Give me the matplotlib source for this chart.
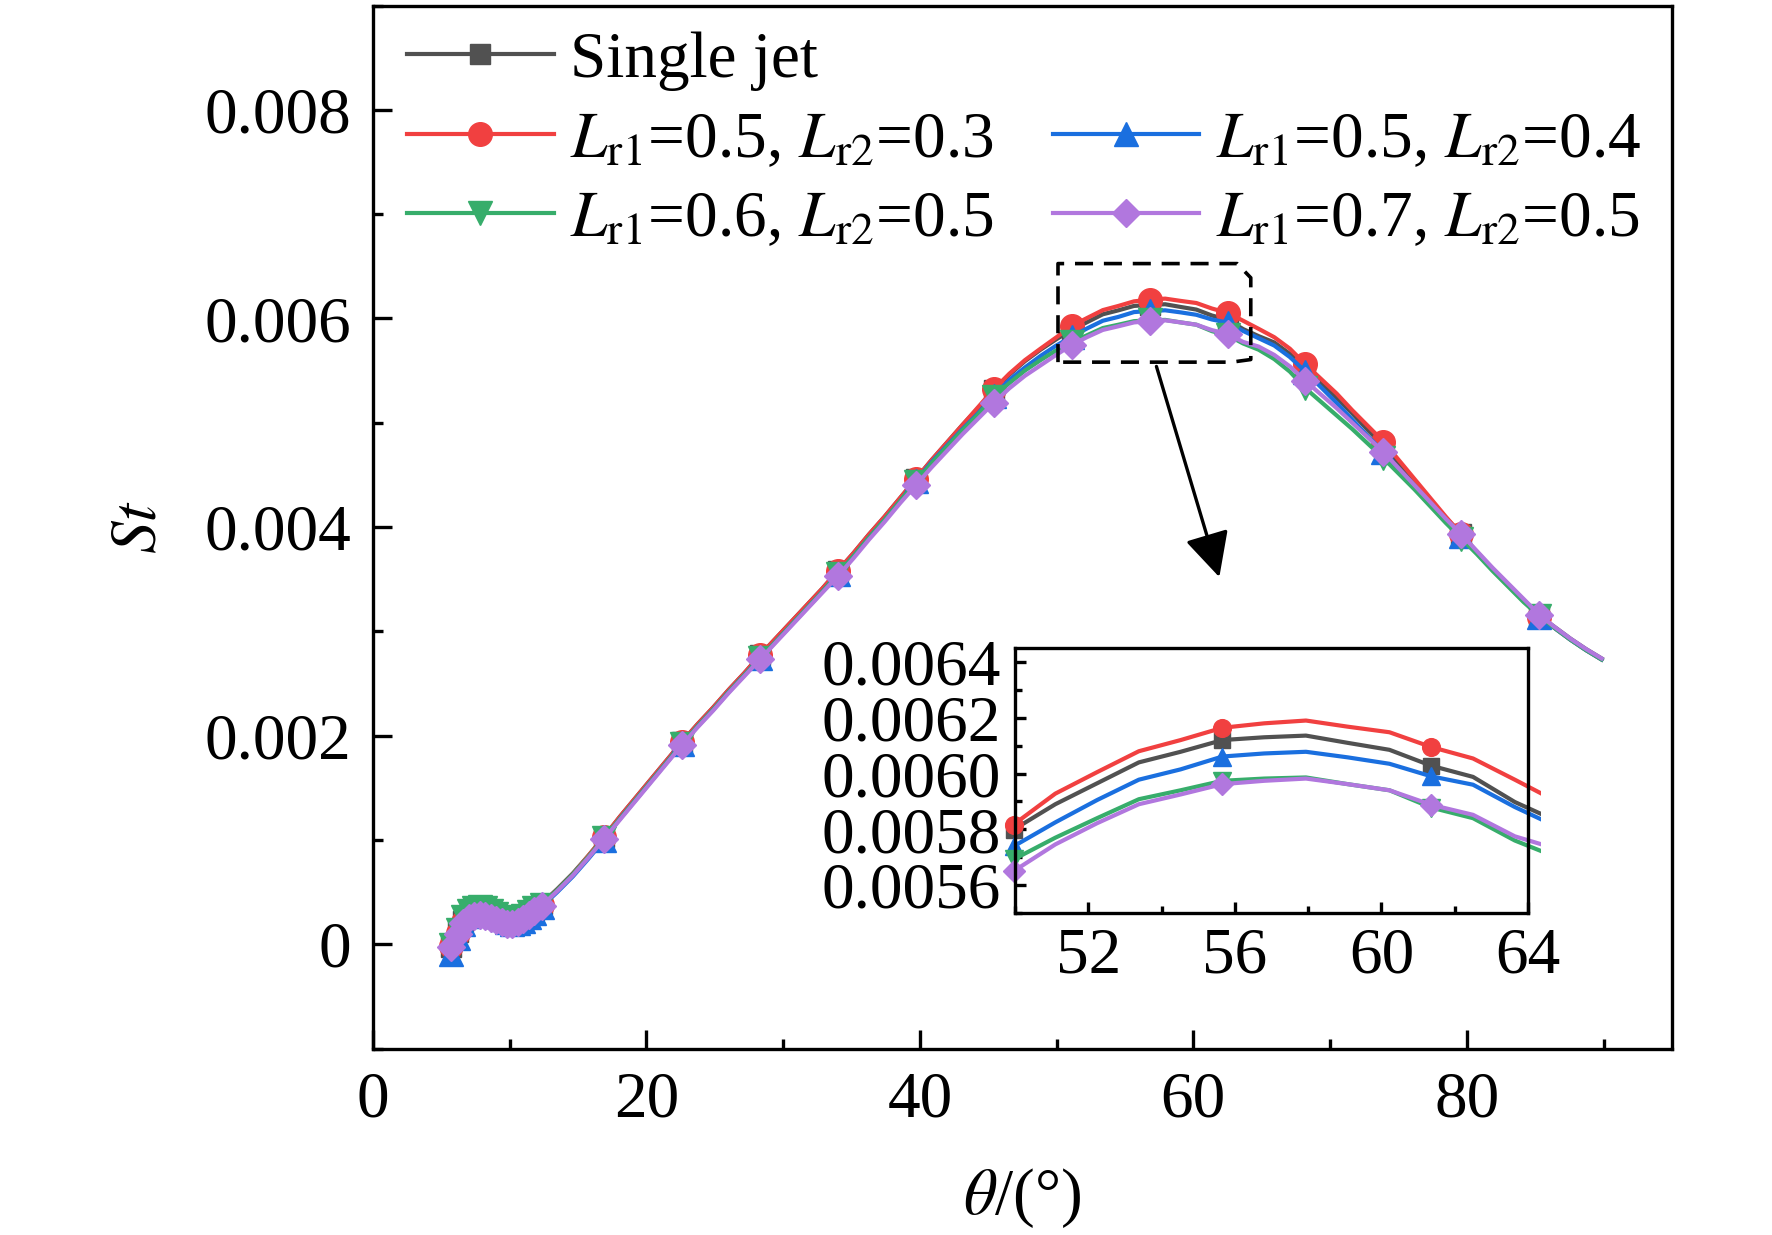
import matplotlib
matplotlib.use("Agg")
import matplotlib.pyplot as plt
from matplotlib.lines import Line2D
from matplotlib.patches import Rectangle
from matplotlib.ticker import MultipleLocator, FuncFormatter

# ==============================
# Global styling
# ==============================
plt.rcParams.update({
    "font.family": "serif",
    "font.serif": ["Liberation Serif", "DejaVu Serif"],
    "mathtext.fontset": "stix",
    "font.size": 47,
    "axes.linewidth": 2.4,
})

# ==============================
# Data
# ==============================
theta = [5.7, 6.2, 6.6, 7.0, 7.4, 7.8, 8.2, 8.6, 9.0, 9.4, 9.8, 10.2, 10.6, 11.0, 11.4, 11.8,
         12.34, 13.48, 14.62, 15.76, 16.90, 18.04, 19.18, 20.32, 21.46, 22.60, 23.74, 24.88,
         26.02, 27.16, 28.30, 29.44, 30.58, 31.72, 32.86, 34.00, 35.14, 36.28, 37.42, 38.56,
         39.70, 40.84, 41.98, 43.12, 44.26, 45.40, 46.54, 47.68, 48.82, 49.96, 51.10, 52.24,
         53.38, 54.52, 55.66, 56.80, 57.94, 59.08, 60.22, 61.36, 62.50, 63.64, 64.78, 65.92,
         67.06, 68.20, 69.34, 70.48, 71.62, 72.76, 73.90, 75.04, 76.18, 77.32, 78.46, 79.60,
         80.74, 81.88, 83.02, 84.16, 85.30, 86.44, 87.58, 88.72, 89.86]

st_single = [-0.00003, 0.00012, 0.00022, 0.00028, 0.00030, 0.00031, 0.00030, 0.00028, 0.00025,
             0.00023, 0.00021, 0.00020, 0.00022, 0.00025, 0.00029, 0.00033,
             0.00039, 0.00053, 0.00068, 0.00085, 0.00103, 0.00122, 0.00140, 0.00158, 0.00176,
             0.00194, 0.00211, 0.00227, 0.00244, 0.00260, 0.00277, 0.00293, 0.00309, 0.00325,
             0.00341, 0.00358, 0.00375, 0.00393, 0.00410, 0.00428, 0.00446, 0.00464, 0.00481,
             0.00498, 0.00514, 0.00531, 0.00546, 0.00559, 0.00570, 0.005799, 0.005890, 0.005965,
             0.006040, 0.006078, 0.006120, 0.006130, 0.006136, 0.006110, 0.006085, 0.006028,
             0.005988, 0.005898, 0.005830, 0.00577, 0.00566, 0.00552, 0.00538, 0.00524, 0.00509,
             0.00493, 0.00478, 0.00460, 0.00443, 0.00426, 0.00409, 0.00393, 0.00376, 0.00360,
             0.00345, 0.00330, 0.00315, 0.00304, 0.00293, 0.00283, 0.00274]

st_05_03 = [-0.00002, 0.00011, 0.00021, 0.00027, 0.00029, 0.00030, 0.00029, 0.00027, 0.00025,
            0.00022, 0.00020, 0.00020, 0.00021, 0.00024, 0.00028, 0.00032,
            0.00038, 0.00052, 0.00067, 0.00085, 0.00103, 0.00122, 0.00140, 0.00158, 0.00176,
            0.00194, 0.00211, 0.00227, 0.00244, 0.00260, 0.00277, 0.00293, 0.00309, 0.00325,
            0.00341, 0.00358, 0.00375, 0.00393, 0.00410, 0.00428, 0.00446, 0.00464, 0.00481,
            0.00498, 0.00515, 0.00532, 0.00547, 0.00560, 0.00571, 0.005817, 0.005928, 0.006005,
            0.006080, 0.006120, 0.006164, 0.006180, 0.006190, 0.006168, 0.006148, 0.006095,
            0.006054, 0.005978, 0.005900, 0.00582, 0.00571, 0.00556, 0.00542, 0.00528, 0.00512,
            0.00497, 0.00482, 0.00464, 0.00446, 0.00428, 0.00410, 0.00393, 0.00376, 0.00359,
            0.00344, 0.00329, 0.00314, 0.00303, 0.00292, 0.00282, 0.00273]

st_05_04 = [-0.00009, 0.00006, 0.00019, 0.00027, 0.00031, 0.00033, 0.00033, 0.00030, 0.00027,
            0.00024, 0.00021, 0.00019, 0.00020, 0.00022, 0.00026, 0.00030,
            0.00036, 0.00050, 0.00065, 0.00082, 0.00100, 0.00120, 0.00138, 0.00156, 0.00174,
            0.00192, 0.00209, 0.00225, 0.00242, 0.00258, 0.00274, 0.00290, 0.00306, 0.00322,
            0.00338, 0.00355, 0.00372, 0.00390, 0.00407, 0.00425, 0.00444, 0.00462, 0.00478,
            0.00494, 0.00509, 0.00526, 0.00541, 0.00553, 0.00564, 0.005739, 0.005825, 0.005905,
            0.005978, 0.006015, 0.006061, 0.006072, 0.006078, 0.006058, 0.006035, 0.005990,
            0.005960, 0.005880, 0.005810, 0.00574, 0.00563, 0.00549, 0.00534, 0.00519, 0.00503,
            0.00487, 0.00472, 0.00455, 0.00438, 0.00422, 0.00406, 0.00391, 0.00375, 0.00359,
            0.00344, 0.00329, 0.00314, 0.00303, 0.00292, 0.00282, 0.00273]

st_06_05 = [-0.00001, 0.00014, 0.00026, 0.00032, 0.00035, 0.00036, 0.00035, 0.00032, 0.00029,
            0.00026, 0.00023, 0.00022, 0.00024, 0.00027, 0.00031, 0.00035,
            0.00038, 0.00052, 0.00067, 0.00084, 0.00102, 0.00120, 0.00138, 0.00156, 0.00174,
            0.00192, 0.00209, 0.00225, 0.00242, 0.00258, 0.00274, 0.00290, 0.00306, 0.00322,
            0.00338, 0.00355, 0.00372, 0.00390, 0.00407, 0.00425, 0.00443, 0.00461, 0.00477,
            0.00493, 0.00508, 0.00525, 0.00538, 0.00550, 0.00560, 0.005692, 0.005770, 0.005840,
            0.005908, 0.005940, 0.005974, 0.005982, 0.005986, 0.005962, 0.005940, 0.005878,
            0.005840, 0.005760, 0.005700, 0.00561, 0.00549, 0.00533, 0.00520, 0.00507, 0.00494,
            0.00480, 0.00466, 0.00451, 0.00436, 0.00420, 0.00404, 0.00389, 0.00374, 0.00358,
            0.00343, 0.00328, 0.00315, 0.00303, 0.00292, 0.00282, 0.00273]

st_07_05 = [-0.00003, 0.00010, 0.00020, 0.00025, 0.00027, 0.00028, 0.00027, 0.00025, 0.00023,
            0.00021, 0.00019, 0.00019, 0.00021, 0.00024, 0.00028, 0.00032,
            0.00037, 0.00051, 0.00066, 0.00083, 0.00101, 0.00119, 0.00137, 0.00155, 0.00173,
            0.00191, 0.00208, 0.00224, 0.00241, 0.00257, 0.00273, 0.00289, 0.00305, 0.00321,
            0.00337, 0.00353, 0.00370, 0.00388, 0.00405, 0.00423, 0.00440, 0.00457, 0.00473,
            0.00489, 0.00504, 0.00519, 0.00533, 0.00545, 0.00555, 0.005650, 0.005746, 0.005822,
            0.005890, 0.005925, 0.005962, 0.005974, 0.005982, 0.005962, 0.005940, 0.005888,
            0.005852, 0.005775, 0.005730, 0.00565, 0.00554, 0.00540, 0.00527, 0.00514, 0.00500,
            0.00486, 0.00472, 0.00456, 0.00440, 0.00424, 0.00408, 0.00393, 0.00377, 0.00361,
            0.00346, 0.00331, 0.00316, 0.00304, 0.00293, 0.00283, 0.00274]

labels = ["Single jet",
          r"$L_{\mathrm{r1}}$=0.5, $L_{\mathrm{r2}}$=0.3",
          r"$L_{\mathrm{r1}}$=0.5, $L_{\mathrm{r2}}$=0.4",
          r"$L_{\mathrm{r1}}$=0.6, $L_{\mathrm{r2}}$=0.5",
          r"$L_{\mathrm{r1}}$=0.7, $L_{\mathrm{r2}}$=0.5"]
series = [st_single, st_05_03, st_05_04, st_06_05, st_07_05]

# ==============================
# Style rules (Origin-like)
# ==============================
colors = ["#515151", "#F14040", "#1A6FDF", "#37AD6B", "#B177DE"]
markers = ["s", "o", "^", "v", "D"]
msizes = [15, 17, 17, 17, 14.5]

main_marks = list(range(17)) + list(range(20, 81, 5))
ins_lo, ins_hi = 49, 63          # slice of points shown in the inset
ins_marks = [0, 5, 10]

# ==============================
# Plotting
# ==============================
fig = plt.figure(figsize=(17.72, 12.35), dpi=100)
ax = fig.add_axes([0.2105, 0.151, 0.733, 0.8445])

handles = []
for y, lab, c, m, ms in zip(series, labels, colors, markers, msizes):
    h, = ax.plot(theta, y, color=c, lw=3.0, marker=m, ms=ms, mec=c, mfc=c,
                 markevery=main_marks, label=lab)
    handles.append(h)

ax.set_xlim(0, 95)
ax.set_ylim(-0.001, 0.009)
ax.xaxis.set_major_locator(MultipleLocator(20))
ax.xaxis.set_minor_locator(MultipleLocator(10))
ax.yaxis.set_major_locator(MultipleLocator(0.002))
ax.yaxis.set_minor_locator(MultipleLocator(0.001))
ax.yaxis.set_major_formatter(FuncFormatter(lambda v, p: "0" if abs(v) < 1e-12 else f"{v:.3f}"))
ax.tick_params(which="both", direction="in", top=False, right=False, width=2.4)
ax.tick_params(which="major", length=14, pad=16)
ax.tick_params(which="minor", length=7)
ax.set_xlabel(r"$\theta$/(°)", labelpad=26)
ax.set_ylabel(r"$St$", labelpad=25)

# legend: 2 columns, first row only the single jet
blank = Line2D([], [], linestyle="none")
leg_handles = [handles[0], handles[1], handles[3], blank, handles[2], handles[4]]
leg_labels = [labels[0], labels[1], labels[3], "", labels[2], labels[4]]
ax.legend(leg_handles, leg_labels, ncol=2, loc="upper left", bbox_to_anchor=(0.026, 0.975),
          frameon=False, borderaxespad=0, borderpad=0, handlelength=2.25,
          handletextpad=0.25, columnspacing=0.9, labelspacing=0.3)

# zoom region and arrow
box_x = [50.1, 50.1, 63.2, 64.2, 64.2, 62.8, 50.1]
box_y = [0.005581, 0.006526, 0.006526, 0.00639, 0.005606, 0.005581, 0.005581]
ax.plot(box_x, box_y, color="black", lw=2.6, linestyle=(0, (5, 3)))
ax.annotate("", xy=(61.9, 0.00352), xytext=(57.3, 0.00554),
            arrowprops=dict(arrowstyle="-|>,head_length=0.5,head_width=0.25",
                            color="black", lw=2.4, mutation_scale=55,
                            shrinkA=0, shrinkB=0))

# ==============================
# Inset
# ==============================
axins = fig.add_axes([0.5728, 0.2607, 0.2895, 0.2146])
clip = Rectangle((-0.05, -0.05), 1.075, 1.1, transform=axins.transAxes)
for y, c, m, ms in zip(series, colors, markers, msizes):
    ln, = axins.plot(theta[ins_lo:ins_hi], y[ins_lo:ins_hi], color=c, lw=3.0, marker=m,
                     ms=ms * 0.75, mec=c, mfc=c, markevery=ins_marks)
    ln.set_clip_path(clip)

axins.set_xlim(50, 64)
axins.set_ylim(0.0055, 0.00645)
axins.xaxis.set_minor_locator(MultipleLocator(2))
axins.set_xticks([52, 56, 60, 64])
axins.yaxis.set_major_locator(MultipleLocator(0.0002))
axins.yaxis.set_minor_locator(MultipleLocator(0.0001))
axins.yaxis.set_major_formatter(FuncFormatter(lambda v, p: f"{v:.4f}"))
axins.tick_params(which="both", direction="in", top=False, right=False, width=2.4)
axins.tick_params(which="major", length=8, pad=10)
axins.tick_params(which="minor", length=5)

fig.savefig("out.png", dpi=100)
